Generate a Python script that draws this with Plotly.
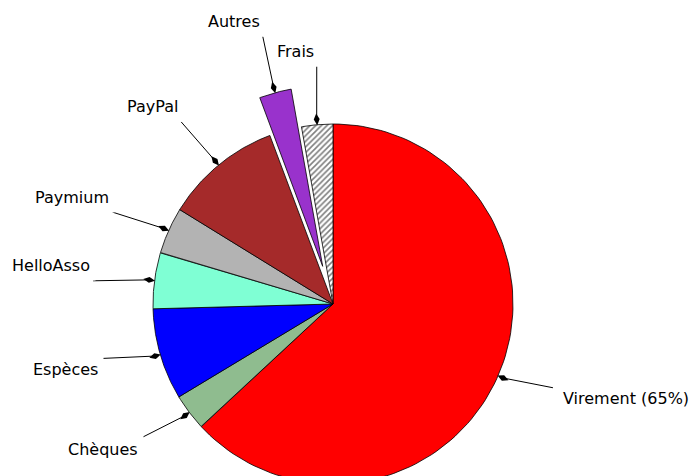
import numpy as np
import plotly.graph_objects as go

# ---- data (shares of receipts) ----
labels = ["Virement", "Chèques", "Espèces", "HelloAsso", "Paymium", "PayPal", "Autres", "Frais"]
values = [63.0, 3.3, 8.2, 5.0, 4.2, 10.5, 2.9, 2.8]
show_pct = ["Virement"]          # labels that carry their share
cost_labels = ["Frais"]          # excluded from the share computation

# ---- styles ----
colors = ["#ff0000", "#8fbc8f", "#0000ff", "#7fffd4", "#b3b3b3", "#a52a2a", "#9932cc", "#ffffff"]
pulls = [0, 0, 0, 0, 0, 0, 0.217, 0]
hatched = [False, False, False, False, False, False, False, True]

W, H = 691, 476
CX, CY, RPX = 333, 304, 180          # pie centre / radius in figure pixels
xr = [-CX / RPX, (W - CX) / RPX]
yr = [-(H - CY) / RPX, CY / RPX]
PX = 1.0 / RPX                        # one pixel in data units

R_DIAMOND, R_TEXT = 1.03, 1.375
TEXT_UP_UPPER, TEXT_UP_LOWER = 6, 4   # px, text centre above the radial point
PAD = 5
FONT = dict(family="DejaVu Sans", size=16, color="black")

vals = np.array(values, dtype=float)
frac = vals / vals.sum()
starts = np.concatenate([[0], np.cumsum(frac)[:-1]]) * 2 * np.pi
ends = np.cumsum(frac) * 2 * np.pi
mids = (starts + ends) / 2
income = sum(v for l, v in zip(labels, values) if l not in cost_labels)

fig = go.Figure()

for i, lab in enumerate(labels):
    ox, oy = pulls[i] * np.sin(mids[i]), pulls[i] * np.cos(mids[i])
    t = np.linspace(starts[i], ends[i], 120)
    xs = np.concatenate([[ox], ox + np.sin(t), [ox]])
    ys = np.concatenate([[oy], oy + np.cos(t), [oy]])
    kw = {}
    if hatched[i]:
        kw["fillpattern"] = dict(shape="/", fgcolor="black", bgcolor="white", size=4, solidity=0.4)
    fig.add_trace(go.Scatter(x=xs, y=ys, mode="lines", fill="toself", fillcolor=colors[i],
                             line=dict(color="black", width=0.8), hoverinfo="skip",
                             showlegend=False, **kw))

lx, ly, dx, dy, dang = [], [], [], [], []
for i, lab in enumerate(labels):
    ox, oy = pulls[i] * np.sin(mids[i]), pulls[i] * np.cos(mids[i])
    ux, uy = np.sin(mids[i]), np.cos(mids[i])
    d = (ox + R_DIAMOND * ux, oy + R_DIAMOND * uy)
    right = ux > 0
    upper = uy > 0
    # near edge of label text (vertical middle)
    nx = ox + R_TEXT * ux + (3 if right else 2.5) * PX
    ny = oy + R_TEXT * uy + (TEXT_UP_UPPER if upper else TEXT_UP_LOWER) * PX
    # leader line stops at the label corner facing the pie
    ex = nx + (-10 if right else 3) * PX
    ey = ny + (-15 if upper else 11) * PX
    lx += [d[0], ex, None]
    ly += [d[1], ey, None]
    dx.append(d[0]); dy.append(d[1]); dang.append(np.degrees(mids[i]))

    text = lab
    if lab in show_pct:
        text = f"{lab} ({round(100 * values[i] / income):.0f}%)"
    fig.add_annotation(
        x=nx, y=ny, xref="x", yref="y", text=text, showarrow=False,
        xanchor="left" if right else "right", yanchor="middle",
        xshift=-(PAD + 1) if right else (PAD + 1),
        font=FONT, bgcolor="white", borderpad=PAD,
    )

fig.add_trace(go.Scatter(x=lx, y=ly, mode="lines", line=dict(color="black", width=1),
                         hoverinfo="skip", showlegend=False))
fig.add_trace(go.Scatter(x=dx, y=dy, mode="markers",
                         marker=dict(symbol="diamond-tall", size=8.5, color="black", angle=dang,
                                     line=dict(width=0)),
                         hoverinfo="skip", showlegend=False))

fig.update_layout(
    width=W, height=H, margin=dict(l=0, r=0, t=0, b=0),
    paper_bgcolor="white", plot_bgcolor="white",
    xaxis=dict(range=xr, visible=False, fixedrange=True),
    yaxis=dict(range=yr, visible=False, fixedrange=True),
    showlegend=False,
)
fig.write_html(
    "out.html",
    config={"displayModeBar": False},
    post_script="document.body.style.margin='0';document.body.style.overflow='hidden';",
)
